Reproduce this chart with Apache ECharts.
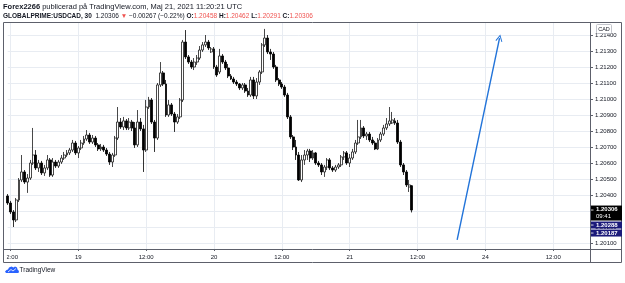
<!DOCTYPE html>
<html>
<head>
<meta charset="utf-8">
<script src="https://cdn.jsdelivr.net/npm/echarts@6/dist/echarts.min.js"></script>
<style>
  html, body { margin: 0; padding: 0; background: #fff; }
  #chart { width: 625px; height: 283px; }
</style>
</head>
<body>
<div id="chart"></div>
<script>
// USDCAD 30m bars, 18 May 11:30 -> 21 May 11:00 UTC
const opens = [
  1.20394, 1.20350, 1.20294, 1.20244, 1.20369, 1.20494, 1.20544, 1.20481, 1.20506, 1.20600,
  1.20650, 1.20569, 1.20600, 1.20538, 1.20569, 1.20619, 1.20525, 1.20606, 1.20581, 1.20606,
  1.20631, 1.20650, 1.20663, 1.20681, 1.20725, 1.20663, 1.20694, 1.20725, 1.20750, 1.20775,
  1.20731, 1.20756, 1.20713, 1.20688, 1.20700, 1.20681, 1.20656, 1.20606, 1.20650, 1.20756,
  1.20856, 1.20825, 1.20863, 1.20819, 1.20856, 1.20819, 1.20713, 1.20856, 1.20813, 1.20681,
  1.20950, 1.20994, 1.20856, 1.20756, 1.21088, 1.21163, 1.21094, 1.20900, 1.20963, 1.20906,
  1.20856, 1.20888, 1.20994, 1.21356, 1.21263, 1.21231, 1.21200, 1.21231, 1.21256, 1.21306,
  1.21338, 1.21356, 1.21294, 1.21313, 1.21200, 1.21169, 1.21269, 1.21231, 1.21194, 1.21144,
  1.21125, 1.21106, 1.21094, 1.21069, 1.21088, 1.21050, 1.21025, 1.21119, 1.21019, 1.21106,
  1.21169, 1.21338, 1.21381, 1.21294, 1.21281, 1.21200, 1.21119, 1.21094, 1.21075, 1.21025,
  1.20888, 1.20763, 1.20700, 1.20650, 1.20494, 1.20619, 1.20650, 1.20675, 1.20631, 1.20663,
  1.20600, 1.20588, 1.20544, 1.20575, 1.20619, 1.20569, 1.20556, 1.20575, 1.20588, 1.20638,
  1.20663, 1.20600, 1.20631, 1.20669, 1.20725, 1.20763, 1.20819, 1.20769, 1.20781, 1.20744,
  1.20725, 1.20688, 1.20744, 1.20781, 1.20819, 1.20844, 1.20850, 1.20863, 1.20850, 1.20731,
  1.20588, 1.20544, 1.20450, 1.20458
];
const closes = [
  1.20350, 1.20294, 1.20244, 1.20369, 1.20494, 1.20544, 1.20481, 1.20506, 1.20600, 1.20650,
  1.20569, 1.20600, 1.20538, 1.20569, 1.20619, 1.20525, 1.20606, 1.20581, 1.20606, 1.20631,
  1.20650, 1.20663, 1.20681, 1.20725, 1.20663, 1.20694, 1.20725, 1.20750, 1.20775, 1.20731,
  1.20756, 1.20713, 1.20688, 1.20700, 1.20681, 1.20656, 1.20606, 1.20650, 1.20756, 1.20856,
  1.20825, 1.20863, 1.20819, 1.20856, 1.20819, 1.20713, 1.20856, 1.20813, 1.20681, 1.20950,
  1.20994, 1.20856, 1.20756, 1.21088, 1.21163, 1.21094, 1.20900, 1.20963, 1.20906, 1.20856,
  1.20888, 1.20994, 1.21356, 1.21263, 1.21231, 1.21200, 1.21231, 1.21256, 1.21306, 1.21338,
  1.21356, 1.21319, 1.21313, 1.21200, 1.21150, 1.21269, 1.21231, 1.21194, 1.21144, 1.21125,
  1.21106, 1.21094, 1.21069, 1.21088, 1.21050, 1.21025, 1.21119, 1.21019, 1.21106, 1.21169,
  1.21338, 1.21381, 1.21294, 1.21281, 1.21200, 1.21119, 1.21094, 1.21075, 1.21025, 1.20888,
  1.20763, 1.20700, 1.20650, 1.20494, 1.20619, 1.20650, 1.20675, 1.20631, 1.20663, 1.20600,
  1.20588, 1.20544, 1.20575, 1.20619, 1.20569, 1.20556, 1.20575, 1.20588, 1.20638, 1.20663,
  1.20600, 1.20631, 1.20669, 1.20725, 1.20763, 1.20819, 1.20769, 1.20781, 1.20744, 1.20725,
  1.20688, 1.20744, 1.20781, 1.20819, 1.20844, 1.20863, 1.20869, 1.20850, 1.20731, 1.20588,
  1.20544, 1.20463, 1.20463, 1.20306
];
const highs = [
  1.20406, 1.20363, 1.20306, 1.20381, 1.20506, 1.20650, 1.20556, 1.20531, 1.20619, 1.20819,
  1.20681, 1.20619, 1.20613, 1.20588, 1.20650, 1.20631, 1.20631, 1.20619, 1.20619, 1.20650,
  1.20669, 1.20681, 1.20694, 1.20744, 1.20738, 1.20706, 1.20744, 1.20769, 1.20806, 1.20788,
  1.20775, 1.20769, 1.20725, 1.20719, 1.20713, 1.20694, 1.20669, 1.20663, 1.20769, 1.20950,
  1.20881, 1.20888, 1.20875, 1.20881, 1.20869, 1.20856, 1.20931, 1.20881, 1.20838, 1.20994,
  1.21013, 1.21006, 1.20869, 1.21100, 1.21231, 1.21175, 1.21119, 1.20994, 1.20975, 1.20919,
  1.20906, 1.21006, 1.21369, 1.21431, 1.21275, 1.21244, 1.21256, 1.21275, 1.21331, 1.21356,
  1.21400, 1.21369, 1.21325, 1.21325, 1.21213, 1.21313, 1.21281, 1.21244, 1.21219, 1.21156,
  1.21138, 1.21119, 1.21100, 1.21100, 1.21100, 1.21069, 1.21138, 1.21138, 1.21131, 1.21181,
  1.21350, 1.21438, 1.21400, 1.21313, 1.21294, 1.21213, 1.21131, 1.21106, 1.21088, 1.21038,
  1.20900, 1.20775, 1.20744, 1.20669, 1.20650, 1.20681, 1.20688, 1.20688, 1.20681, 1.20669,
  1.20613, 1.20600, 1.20588, 1.20631, 1.20631, 1.20581, 1.20588, 1.20600, 1.20650, 1.20675,
  1.20675, 1.20656, 1.20688, 1.20744, 1.20869, 1.20869, 1.20831, 1.20794, 1.20794, 1.20763,
  1.20738, 1.20756, 1.20794, 1.20838, 1.20881, 1.20950, 1.20919, 1.20881, 1.20869, 1.20744,
  1.20600, 1.20556, 1.20494, 1.20462
];
const lows = [
  1.20338, 1.20281, 1.20200, 1.20231, 1.20356, 1.20481, 1.20469, 1.20413, 1.20494, 1.20588,
  1.20556, 1.20544, 1.20525, 1.20519, 1.20556, 1.20513, 1.20513, 1.20569, 1.20569, 1.20594,
  1.20619, 1.20638, 1.20650, 1.20669, 1.20650, 1.20631, 1.20681, 1.20713, 1.20738, 1.20719,
  1.20719, 1.20700, 1.20675, 1.20675, 1.20669, 1.20644, 1.20588, 1.20575, 1.20638, 1.20744,
  1.20813, 1.20806, 1.20806, 1.20806, 1.20800, 1.20694, 1.20700, 1.20800, 1.20544, 1.20669,
  1.20938, 1.20844, 1.20669, 1.20744, 1.21075, 1.21081, 1.20888, 1.20888, 1.20894, 1.20794,
  1.20844, 1.20875, 1.20981, 1.21250, 1.21219, 1.21188, 1.21181, 1.21213, 1.21244, 1.21294,
  1.21325, 1.21306, 1.21288, 1.21188, 1.21138, 1.21156, 1.21219, 1.21181, 1.21131, 1.21119,
  1.21094, 1.21081, 1.21056, 1.21056, 1.21038, 1.21013, 1.21013, 1.21000, 1.21000, 1.21088,
  1.21156, 1.21325, 1.21281, 1.21244, 1.21188, 1.21106, 1.21081, 1.21063, 1.21013, 1.20875,
  1.20750, 1.20681, 1.20619, 1.20488, 1.20481, 1.20588, 1.20619, 1.20606, 1.20619, 1.20588,
  1.20575, 1.20525, 1.20513, 1.20556, 1.20556, 1.20544, 1.20544, 1.20563, 1.20575, 1.20619,
  1.20588, 1.20575, 1.20619, 1.20656, 1.20713, 1.20750, 1.20756, 1.20744, 1.20731, 1.20713,
  1.20681, 1.20681, 1.20731, 1.20769, 1.20806, 1.20831, 1.20844, 1.20838, 1.20719, 1.20575,
  1.20525, 1.20450, 1.20419, 1.20291
];

// time scale: 30m slots across the pane (bars + empty space on the right)
const slotCount = 207;
const timeTicks = ['12:00', '19', '12:00', '20', '12:00', '21', '12:00', '24', '12:00'];
const firstTick = 1;
const tickStep = 24;

const priceTicks = [1.201, 1.202, 1.203, 1.204, 1.205, 1.206, 1.207, 1.208, 1.209, 1.21, 1.211, 1.212, 1.213, 1.214];
const priceMin = 1.200625;
const priceMax = 1.2148125;

const lastPrice = 1.20306;
const countdown = '09:41';
const levels = [1.20288, 1.20187];
const arrowFrom = [159, 1.20119];
const arrowTo = [174, 1.21381];

const FONT = 'Liberation Sans, Arial, sans-serif';
const INK = '#131722';
const RED = '#ef5350';
const NAVY = '#1c1a7a';
const FRAME = '#5d606b';
const GRIDC = '#e8ecf2';

const slots = Array.from({ length: slotCount }, (_, i) => String(i));
const isTick = i => i >= firstTick && (i - firstTick) % tickStep === 0;
const candles = opens.map((o, i) => [o, closes[i], lows[i], highs[i]]);

const chart = echarts.init(document.getElementById('chart'));

chart.setOption({
  animation: false,
  grid: { left: 5, right: 35, top: 22, bottom: 34 },
  xAxis: {
    type: 'category',
    data: slots,
    boundaryGap: false,
    axisLine: { show: false },
    axisTick: { show: true, interval: (i) => isTick(i), length: 2, lineStyle: { color: FRAME } },
    axisLabel: {
      interval: (i) => isTick(i),
      formatter: (v, i) => timeTicks[(i - firstTick) / tickStep] || '',
      color: INK, fontSize: 6, fontFamily: FONT, margin: 5,
      align: 'center', alignMinLabel: 'center', alignMaxLabel: 'center'
    },
    splitLine: { show: true, interval: (i) => isTick(i), lineStyle: { color: GRIDC, width: 1 } }
  },
  yAxis: {
    type: 'value',
    position: 'right',
    min: priceMin,
    max: priceMax,
    scale: true,
    axisLine: { show: false },
    axisTick: { show: true, customValues: priceTicks, length: 3, lineStyle: { color: FRAME } },
    axisLabel: {
      customValues: priceTicks,
      formatter: v => v.toFixed(5),
      color: INK, fontSize: 6, fontFamily: FONT, margin: 5
    },
    splitLine: { show: true, lineStyle: { color: GRIDC, width: 1 } }
  },
  series: [{
    type: 'candlestick',
    data: candles,
    barWidth: 2.4,
    silent: true,
    itemStyle: {
      color: '#ffffff', color0: '#000000',
      borderColor: '#1a1a1a', borderColor0: '#000000',
      borderWidth: 0.8
    },
    markLine: {
      silent: true,
      symbol: 'none',
      label: { show: false },
      data: [
        { yAxis: lastPrice, lineStyle: { color: '#c9cbd1', width: 1, type: 'solid' } },
        ...levels.map(v => ({ yAxis: v, lineStyle: { color: NAVY, width: 1.2, type: 'solid' } })),
        [
          { coord: arrowFrom, symbol: 'none' },
          {
            coord: arrowTo,
            symbol: 'path://M5,0 L10,9 L8.8,9.6 L5,2.6 L1.2,9.6 L0,9 Z',
            symbolSize: [7, 7],
            lineStyle: { color: '#2173d9', width: 1.4, type: 'solid' }
          }
        ]
      ]
    }
  }]
});

// overlay: frame, legend text, price tags (positions taken from the scales)
const py = v => chart.convertToPixel({ yAxisIndex: 0 }, v);
const g = [];

// header
g.push({
  type: 'text', z: 100,
  style: {
    x: 3, y: 7, verticalAlign: 'middle',
    text: '{b|Forex2266} publicerad på TradingView.com, Maj 21, 2021 11:20:21 UTC',
    font: '7.5px ' + FONT, fill: INK,
    rich: { b: { fontWeight: 'bold', fontSize: 7.5, fontFamily: FONT, fill: INK } }
  }
});
g.push({
  type: 'text', z: 100,
  style: {
    x: 3, y: 16.5, verticalAlign: 'middle',
    text: '{b|GLOBALPRIME:USDCAD, 30}  1.20306 {r|▼} −0.00267 (−0.22%) {b|O:}{r|1.20458} {b|H:}{r|1.20462} {b|L:}{r|1.20291} {b|C:}{r|1.20306}',
    font: '6.5px ' + FONT, fill: INK,
    rich: {
      b: { fontWeight: 'bold', fontSize: 6.5, fontFamily: FONT, fill: INK },
      r: { fontSize: 6.5, fontFamily: FONT, fill: RED }
    }
  }
});

// the first time label is cut by the left edge of the pane
g.push({ type: 'rect', z: 150, shape: { x: 0, y: 250, width: 6.8, height: 12 }, style: { fill: '#fff' } });

// frame and separators
g.push({ type: 'rect', z: 151, shape: { x: 3.5, y: 22.5, width: 618, height: 240 }, style: { fill: 'none', stroke: FRAME, lineWidth: 1 } });
g.push({ type: 'line', z: 151, shape: { x1: 590.5, y1: 22, x2: 590.5, y2: 263 }, style: { stroke: FRAME, lineWidth: 1 } });
g.push({ type: 'line', z: 151, shape: { x1: 3, y1: 249.5, x2: 622, y2: 249.5 }, style: { stroke: FRAME, lineWidth: 1 } });

// currency box
g.push({ type: 'rect', z: 152, shape: { x: 596.5, y: 24.5, width: 15, height: 9, r: 1 }, style: { fill: '#fff', stroke: '#b2b5be', lineWidth: 0.8 } });
g.push({ type: 'text', z: 153, style: { x: 604, y: 29.2, text: 'CAD', align: 'center', verticalAlign: 'middle', font: '5.5px ' + FONT, fill: INK } });

// last price tag with countdown
const tagX = 591, tagW = 31;
let tagTop = py(lastPrice) - 4.5;
g.push({ type: 'rect', z: 152, shape: { x: tagX, y: tagTop, width: tagW, height: 15 }, style: { fill: '#000' } });
g.push({ type: 'line', z: 153, shape: { x1: tagX, y1: py(lastPrice), x2: tagX + 2.5, y2: py(lastPrice) }, style: { stroke: '#fff', lineWidth: 0.8 } });
g.push({ type: 'text', z: 153, style: { x: tagX + 5, y: tagTop + 4, text: lastPrice.toFixed(5), verticalAlign: 'middle', font: 'bold 6px ' + FONT, fill: '#fff' } });
g.push({ type: 'text', z: 153, style: { x: tagX + 5, y: tagTop + 11, text: countdown, verticalAlign: 'middle', font: '6px ' + FONT, fill: '#fff' } });
let prevBottom = tagTop + 15;

// level tags, pushed down when they would overlap
levels.forEach(v => {
  const top = Math.max(py(v) - 3.5, prevBottom + 1);
  g.push({ type: 'rect', z: 152, shape: { x: tagX, y: top, width: tagW, height: 7 }, style: { fill: NAVY } });
  g.push({ type: 'line', z: 153, shape: { x1: tagX, y1: top + 3.5, x2: tagX + 2.5, y2: top + 3.5 }, style: { stroke: '#fff', lineWidth: 0.8 } });
  g.push({ type: 'text', z: 153, style: { x: tagX + 5, y: top + 3.7, text: v.toFixed(5), verticalAlign: 'middle', font: 'bold 6px ' + FONT, fill: '#fff' } });
  prevBottom = top + 7;
});

// TradingView logo (small blue cloud)
g.push({
  type: 'polygon', z: 100, x: 5, y: 265,
  shape: { points: [[1, 8], [0, 6.5], [1.5, 5], [3, 4.5], [4, 2.5], [6.5, 1.5], [8.5, 2.5], [10, 1.5], [12, 2.5], [12.5, 4.5], [14, 6], [13.5, 8]] },
  style: { fill: '#2962ff' }
});
g.push({ type: 'polyline', z: 101, x: 5, y: 265, shape: { points: [[3, 7], [6, 4.5], [8, 6], [11, 3.5]] }, style: { stroke: '#fff', lineWidth: 0.8, fill: 'none' } });
g.push({ type: 'text', z: 100, style: { x: 19.5, y: 270.5, text: 'TradingView', verticalAlign: 'middle', font: '6.5px ' + FONT, fill: INK } });

chart.setOption({ graphic: g });
</script>
</body>
</html>
